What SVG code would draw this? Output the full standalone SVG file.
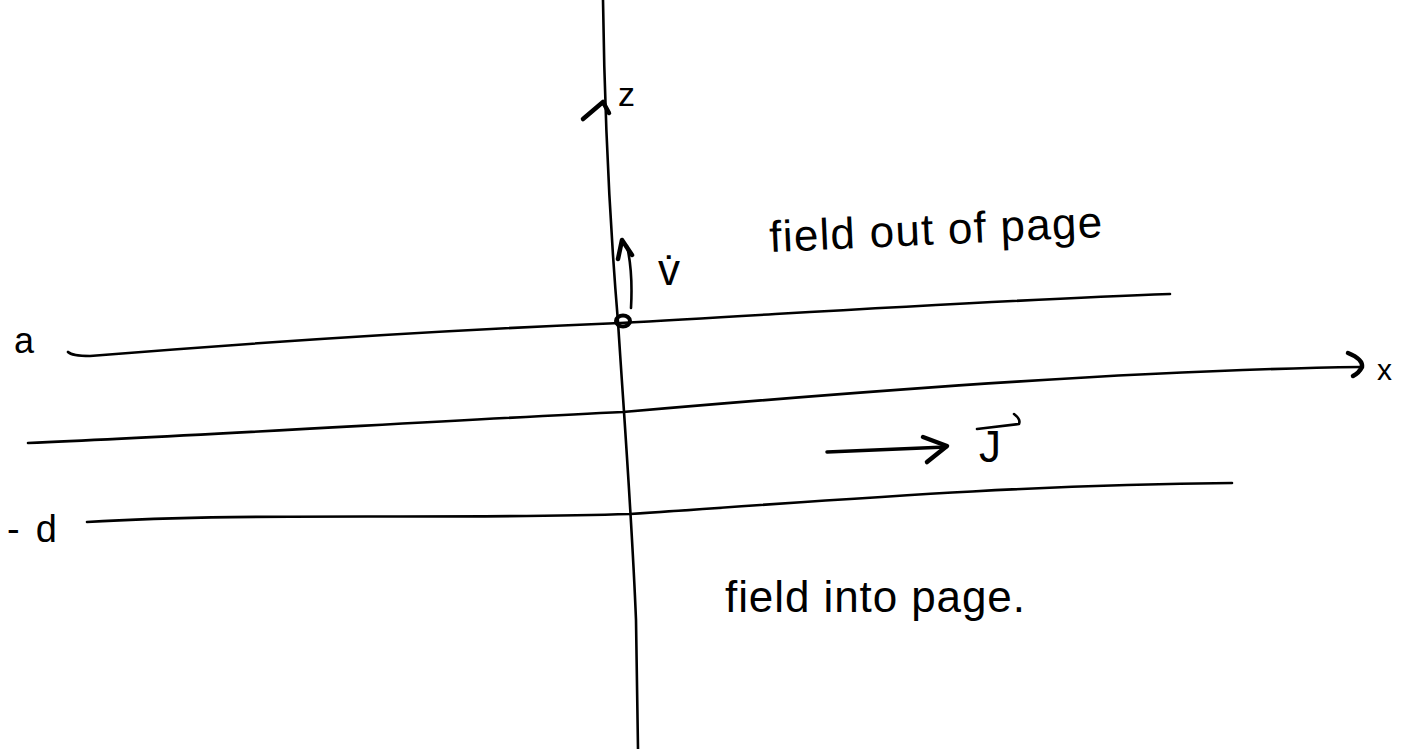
<svg xmlns="http://www.w3.org/2000/svg" width="1409" height="749" viewBox="0 0 1409 749">
<style>
.ln{fill:none;stroke:#000;stroke-width:2.6;stroke-linecap:round;stroke-linejoin:round}
.hd{fill:none;stroke:#000;stroke-width:4.5;stroke-linecap:round;stroke-linejoin:round}
.t{font-family:"Liberation Sans",Arial,sans-serif;fill:#000}
</style>
<rect width="1409" height="749" fill="#fff"/>
<g id="connectors">
<path id="z-axis" class="ln" d="M603,0 C605,150 612,250 618,322 C625,430 632,520 636,620 L638,749"/>
<path id="z-arrow" class="hd" d="M583,119 L603,102 L609,113"/>
<path id="x-axis" class="ln" d="M28,443 C200,436 450,420 623,412 C900,388 1150,370 1361,367"/>
<path id="x-arrow" class="hd" d="M1348,353 Q1363,359 1362,367 Q1359,373 1353,376"/>
<path id="line-a" class="ln" d="M68,352 Q72,356 90,356 C250,343 450,330 620,323 C850,310 1000,300 1170,294"/>
<path id="line-minus-d" class="ln" d="M87,522 C250,512 450,520 630,514 C800,503 1000,485 1232,483"/>
<path id="v-arrow" class="ln" d="M631,308 Q633,272 627,246"/>
<path id="v-head" class="hd" d="M618,259 L622,240 L632,255"/>
<path id="j-arrow" class="ln" d="M827,452 L946,447" style="stroke-width:3.5"/>
<path id="j-head" class="hd" d="M923,437 L947,446 L927,462"/>
<path id="j-vec" class="ln" d="M977,429 L1019,424 Q1021,419 1014,414"/>
</g>
<g id="origin"><ellipse cx="623" cy="321" rx="7" ry="5.5" fill="none" stroke="#000" stroke-width="4"/></g>
<g id="labels">
<text id="lbl-z" class="t" x="618" y="106" font-size="34">z</text>
<text id="lbl-x" class="t" x="1377" y="380" font-size="30">x</text>
<text id="lbl-a" class="t" x="14" y="353" font-size="36">a</text>
<text id="lbl-d" class="t" x="7" y="542" font-size="38" textLength="50">-d</text>
<text id="lbl-v" class="t" x="658" y="285" font-size="44">v̇</text>
<text id="lbl-J" class="t" x="979" y="462" font-size="44">J</text>
<text id="lbl-out" class="t" x="770" y="252" font-size="44" textLength="333" transform="rotate(-2.6 770 252)">field out of page</text>
<text id="lbl-into" class="t" x="725" y="612" font-size="44" textLength="300">field into page.</text>
</g>
</svg>
